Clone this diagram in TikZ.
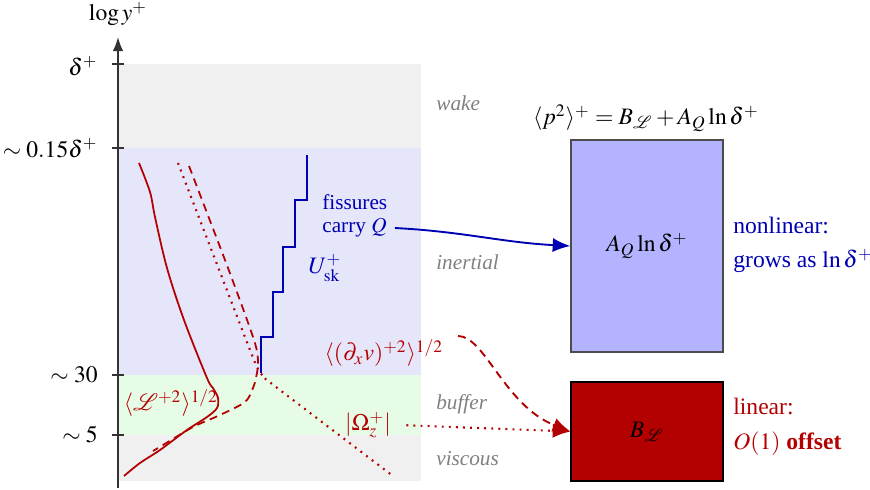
\documentclass[tikz,border=0pt]{standalone}
\usepackage{mathptmx}
\usepackage{fontspec}
\setmainfont{Liberation Serif}[BoldFont={Liberation Serif Bold}, ItalicFont={Liberation Serif Italic}]
\usetikzlibrary{arrows.meta}
\definecolor{dred}{HTML}{B30000}
\definecolor{dblue}{HTML}{0000B3}
\definecolor{wakegray}{HTML}{F0F0F0}
\definecolor{inblue}{HTML}{E6E6FA}
\definecolor{bufgreen}{HTML}{E6FCE6}
\definecolor{boxblue}{HTML}{B3B3FF}
\tikzset{
  band/.style={font=\small\itshape, text=gray, anchor=west},
  ticklab/.style={anchor=east},
  tickmark/.style={line width=0.6pt, black!80},
  redcurve/.style={dred, line width=0.75pt},
  dashedline/.style={dash pattern=on 3.4pt off 2.3pt},
  dottedline/.style={line width=0.9pt, dash pattern=on 0.8pt off 2.2pt},
  termbox/.style={draw=black!70, line width=0.5pt, minimum width=64.4pt},
  arr/.style={-{Latex[length=7.5pt,width=6pt]}},
}
\begin{document}
\begin{tikzpicture}[x=0.4237pt, y=-0.4237pt]
\useasboundingbox (0,0) rectangle (870,490);
% bands
\fill[wakegray] (118,64) rectangle (421,148);
\fill[inblue] (118,148) rectangle (421,375);
\fill[bufgreen] (118,375) rectangle (421,435);
\fill[wakegray] (118,435) rectangle (421,481);
% band labels
\node[band] (lwake) at (428,103) {wake};
\node[band] (linert) at (428,262) {inertial};
\node[band] (lbuf) at (428,404) {buffer};
\node[band] (lvisc) at (428,459) {viscous};
% axis
\coordinate (axb) at (118,488);
\coordinate (axt) at (118,37);
\draw[line width=0.7pt, black!80, -{Latex[length=6pt,width=4.5pt]}] (axb) -- (axt);
\node (ylab) at (118,14) {$\log y^+$};
% ticks
\foreach \yy in {64,148,375,435} \draw[tickmark] (112,\yy) -- (124,\yy);
\node[ticklab] (t1) at (106,66) {$\delta^+$};
\node[ticklab] (t2) at (106,148) {${\sim}\;0.15\delta^+$};
\node[ticklab] (t3) at (106,375) {${\sim}\;30$};
\node[ticklab] (t4) at (106,435) {${\sim}\;5$};
% curves
\draw[redcurve] plot[smooth, tension=0.55] coordinates {(139,163) (150,192) (155,217) (167,268) (184,320) (207,378) (213,388) (218,398) (217,408) (207,417) (187,430) (160,450) (140,463) (124,476)};
\draw[redcurve, dashedline] plot[smooth, tension=0.5] coordinates {(189,166) (228,268) (254,340) (258,362) (256,378) (253,388) (245,402) (220,415) (193,427) (163,445) (153,451)};
\draw[redcurve, dottedline] plot[smooth, tension=0.5] coordinates {(178,163) (218,267) (250,350) (258,369) (265,378) (276,387) (393,476)};
% staircase
\draw[dblue, line width=1.1pt] (261,373) -- (261,337) -- (273,337) -- (273,292) -- (283,292) -- (283,247) -- (295,247) -- (295,200) -- (307,200) -- (307,155);
% curve labels
\node[text=dred] (lL) at (171,403) {$\langle\mathcal{L}^{+2}\rangle^{1/2}$};
\node[text=dred] (dv) at (384,353) {$\langle(\partial_x v)^{+2}\rangle^{1/2}$};
\node[text=dred] (om) at (368,425) {$|\Omega_z^+|$};
\node[text=dblue, font=\small, anchor=west] (fis1) at (314,202) {fissures};
\node[text=dblue, font=\small, anchor=west] (fis2) at (314,228) {carry $Q$};
\node[text=dblue] (usk) at (325,268) {$U^+_{\mathrm{sk}}$};
% right boxes
\node (title) at (646,118) {$\langle p^2\rangle^+ = B_{\mathcal{L}} + A_Q\ln\delta^+$};
\node[termbox, fill=boxblue, minimum height=89.8pt] (boxA) at (647,246) {$A_Q\ln\delta^+$};
\node[termbox, fill=dred, draw=black, minimum height=41.9pt] (boxB) at (647,431.5) {$B_{\mathcal{L}}$};
\node[text=dblue, anchor=west, align=left] (nl) at (725,245) {nonlinear:\\[2.5pt] grows as $\ln\delta^+$};
\node[text=dred, anchor=west, align=left] (lin) at (725,427) {linear:\\[3pt] $O(1)$ \textbf{offset}};
% connectors
\coordinate (dvs) at (458,336);
\draw[dblue, line width=0.8pt, arr] (fis2.east) to[out=-3, in=177] (boxA.west);
\draw[dred, dottedline, arr, shorten <=3pt] (om.east) -- (boxB.west);
\draw[dred, line width=0.8pt, dashedline, arr] (dvs) .. controls +(11.4pt,0pt) and +(-28pt,11pt) .. (boxB.west);
\end{tikzpicture}
\end{document}
